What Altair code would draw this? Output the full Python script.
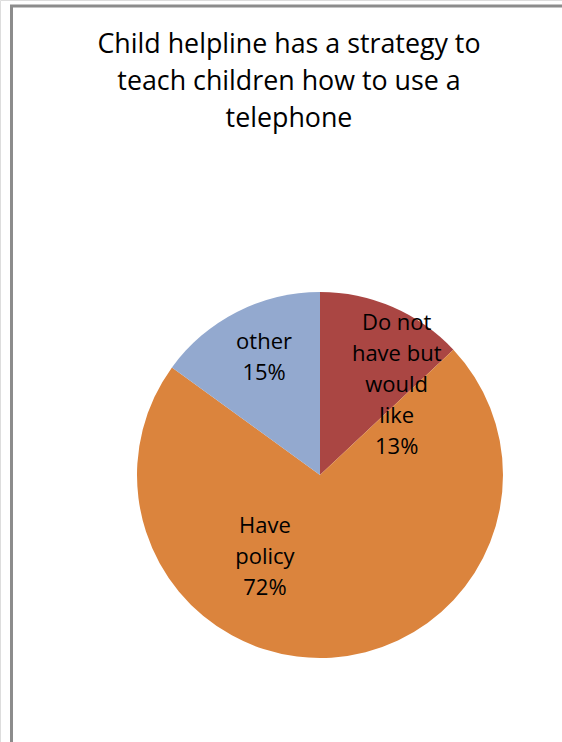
import altair as alt
import pandas as pd
import math

categories = ["Do not have but would like", "Have policy", "other"]
label_lines = [["Do not", "have but", "would", "like"], ["Have", "policy"], ["other"]]
values = [13, 72, 15]
colors = ["#AA4643", "#DB843D", "#93A9CF"]
title_lines = ["Child helpline has a strategy to", "teach children how to use a", "telephone"]

df = pd.DataFrame({
    "category": categories,
    "value": values,
    "order": list(range(len(categories))),
    "label": ["\n".join(l + [f"{v}%"]) for l, v in zip(label_lines, values)],
})

CX, CY, R = 320, 475, 183
FONT = "Open Sans"

pie = alt.Chart(df).mark_arc(outerRadius=R).encode(
    theta=alt.Theta("value:Q", stack=True),
    order=alt.Order("order:Q"),
    color=alt.Color("category:N", scale=alt.Scale(domain=categories, range=colors), legend=None),
    x=alt.value(CX),
    y=alt.value(CY),
)

text_base = alt.Chart(df).transform_joinaggregate(
    total="sum(value)"
).transform_window(
    cum="sum(value)", sort=[alt.SortField("order")], frame=[None, 0]
).transform_calculate(
    mid=f"(datum.cum - datum.value / 2) / datum.total * {2 * math.pi}"
)

offsets = {categories[0]: (33, -51), categories[1]: (-62, -59), categories[2]: (-6, -35)}
texts = []
for cat, (ddx, ddy) in offsets.items():
    texts.append(
        text_base.transform_filter(alt.datum.category == cat)
        .mark_text(radius=110, dx=ddx, dy=ddy, font=FONT, fontSize=22, lineHeight=31,
                   lineBreak="\n", align="center", baseline="middle", color="black")
        .encode(text="label:N", theta=alt.Theta("mid:Q", scale=None),
                x=alt.value(CX), y=alt.value(CY))
    )

title_df = pd.DataFrame({"t": ["\n".join(title_lines)]})
title = alt.Chart(title_df).mark_text(
    font=FONT, fontSize=26.8, lineHeight=37, lineBreak="\n", align="center", baseline="middle", color="black"
).encode(text="t:N", x=alt.value(289), y=alt.value(45))

border = alt.Chart(title_df).mark_rect(fill=None, stroke="#8c8c8c", strokeWidth=3).encode(
    x=alt.value(11.5), x2=alt.value(700), y=alt.value(6), y2=alt.value(900)
)

chart = alt.layer(border, pie, *texts, title).properties(
    width=562, height=742, autosize=alt.AutoSizeParams(type="none"), padding=0
).configure_view(stroke=None).configure(background="white")

chart.save("out.html", embed_options={"renderer": "svg", "actions": False})
